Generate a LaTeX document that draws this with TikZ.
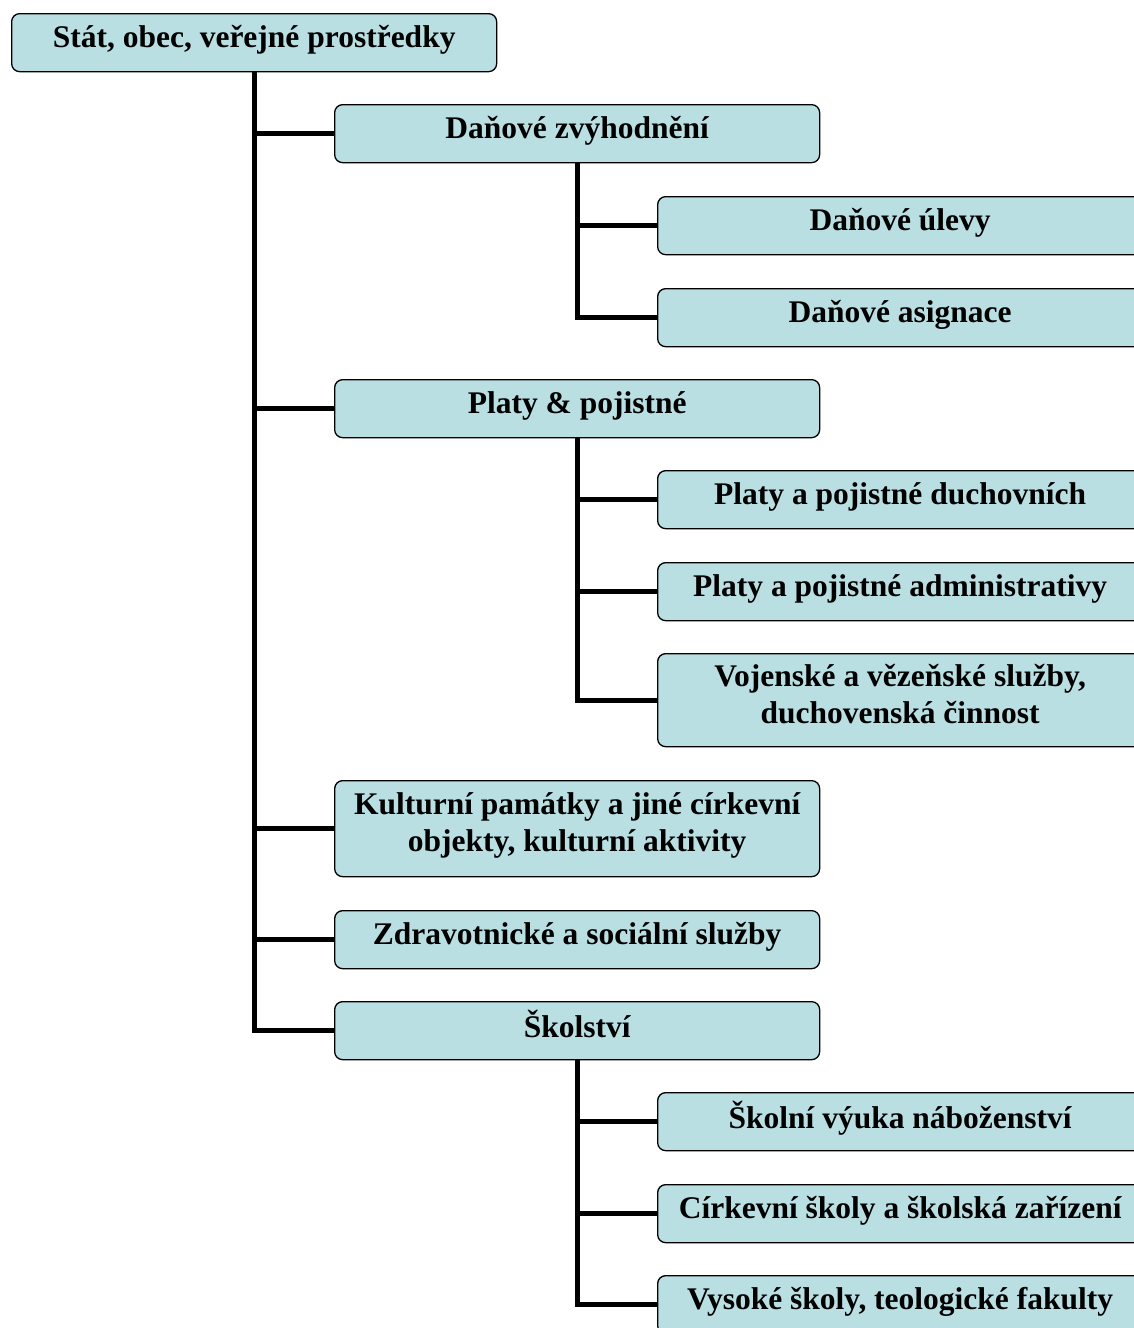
\documentclass[tikz,border=0pt]{standalone}
\usepackage{fontspec}
\setmainfont{Liberation Serif}
\definecolor{boxfill}{RGB}{185,223,227}
\begin{document}
\begin{tikzpicture}[x=1pt,y=-1pt,
  box/.style={draw=black, line width=1.3pt, fill=boxfill, rounded corners=8pt,
    minimum width=485pt, minimum height=58pt, inner sep=0pt, anchor=north west,
    align=center, text depth=13pt, font=\fontsize{31.5}{37}\selectfont\bfseries},
  conn/.style={line width=5pt}]
\useasboundingbox (0,0) rectangle (1134,1328);
\clip (0,0) rectangle (1134,1328);
% nodes
\node[box] (root) at (11,13) {Stát, obec, veřejné prostředky};
\node[box] (dz) at (334,104) {Daňové zvýhodnění};
\node[box] (du) at (657,196) {Daňové úlevy};
\node[box] (da) at (657,288) {Daňové asignace};
\node[box] (pp) at (334,379) {Platy \& pojistné};
\node[box] (ppd) at (657,470) {Platy a pojistné duchovních};
\node[box] (ppa) at (657,562) {Platy a pojistné administrativy};
\node[box, minimum height=93pt] (vv) at (657,653) {Vojenské a vězeňské služby,\\duchovenská činnost};
\node[box, minimum height=96pt] (kp) at (334,780) {Kulturní památky a jiné církevní\\objekty, kulturní aktivity};
\node[box] (zs) at (334,910) {Zdravotnické a sociální služby};
\node[box] (sk) at (334,1001) {Školství};
\node[box] (svn) at (657,1092) {Školní výuka náboženství};
\node[box] (cs) at (657,1184) {Církevní školy a školská zařízení};
\node[box] (vs) at (657,1275) {Vysoké školy, teologické fakulty};
% connectors
\begin{scope}[on background layer/.try]
\draw[conn] (root.south) |- (dz.west);
\draw[conn] (root.south) |- (pp.west);
\draw[conn] (root.south) |- (kp.west);
\draw[conn] (root.south) |- (zs.west);
\draw[conn] (root.south) |- (sk.west);
\draw[conn] (dz.south) |- (du.west);
\draw[conn] (dz.south) |- (da.west);
\draw[conn] (pp.south) |- (ppd.west);
\draw[conn] (pp.south) |- (ppa.west);
\draw[conn] (pp.south) |- (vv.west);
\draw[conn] (sk.south) |- (svn.west);
\draw[conn] (sk.south) |- (cs.west);
\draw[conn] (sk.south) |- (vs.west);
\end{scope}
\end{tikzpicture}
\end{document}
